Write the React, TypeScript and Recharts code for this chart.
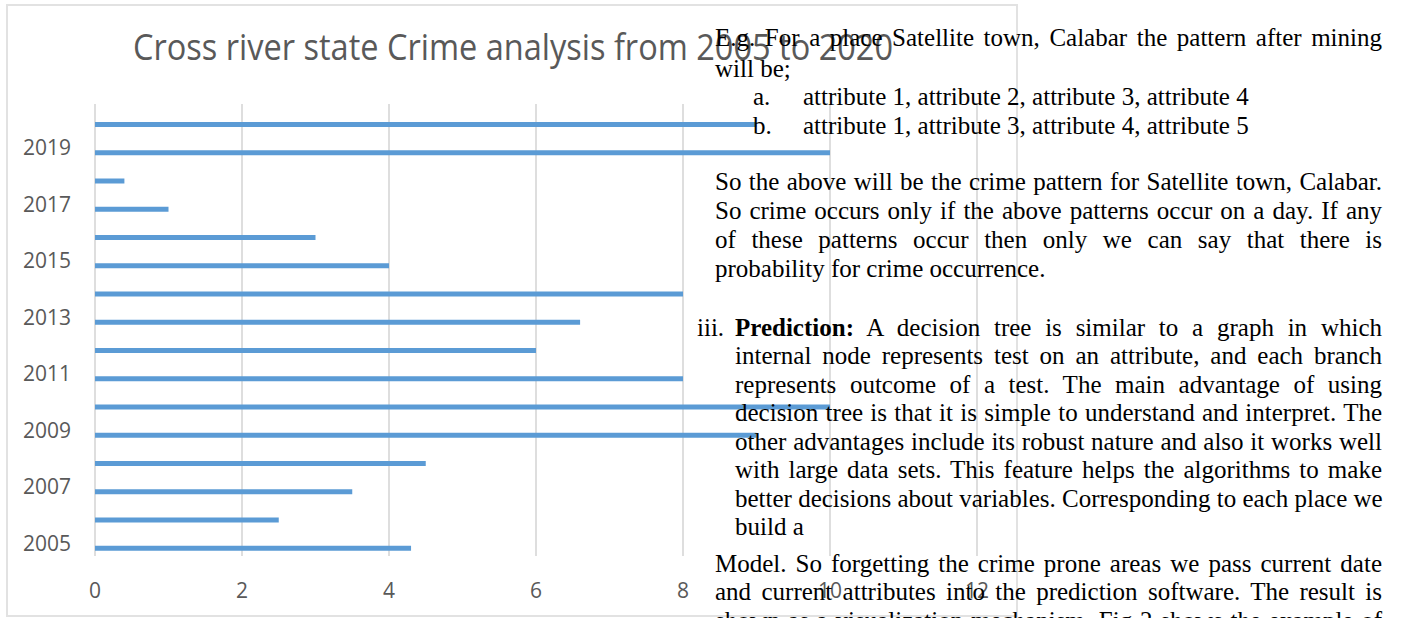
import React from 'react';
import { BarChart, Bar, XAxis, YAxis, CartesianGrid } from 'recharts';

// ---- chart data ----
const years = ['2005', '2006', '2007', '2008', '2009', '2010', '2011', '2012', '2013', '2014', '2015', '2016', '2017', '2018', '2019', '2020'];
const crimes = [4.3, 2.5, 3.5, 4.5, 9, 10, 8, 6, 6.6, 8, 4, 3, 1, 0.4, 10, 9];
const padSeries = years.map(() => 0);
const xTicks = [0, 2, 4, 6, 8, 10, 12];
const chartTitle = 'Cross river state Crime analysis from 2005 to 2020';

// ---- overlapping document text ----
const docLines = [
  'E.g. For a place Satellite town, Calabar the pattern after mining',
  'will be;',
  'So the above will be the crime pattern for Satellite town, Calabar.',
  'So crime occurs only if the above patterns occur on a day. If any',
  'of these patterns occur then only we can say that there is',
  'probability for crime occurrence.',
  'internal node represents test on an attribute, and each branch',
  'represents outcome of a test. The main advantage of using',
  'decision tree is that it is simple to understand and interpret. The',
  'other advantages include its robust nature and also it works well',
  'with large data sets. This feature helps the algorithms to make',
  'better decisions about variables. Corresponding to each place we',
  'build a',
  'Model. So forgetting the crime prone areas we pass current date',
  'and current attributes into the prediction software. The result is',
  'shown as a visualization mechanism. Fig 2 shows the example of',
];
const listMarks = ['a.', 'b.'];
const listItems = ['attribute 1, attribute 2, attribute 3, attribute 4', 'attribute 1, attribute 3, attribute 4, attribute 5'];
const romanMark = 'iii.';
const boldLead = 'Prediction:';
const predictionRest = ' A decision tree is similar to a graph in which';

const data = years.map((y, i) => ({ year: y, pad: padSeries[i], value: crimes[i] }));

const serif = '"Liberation Serif", "Times New Roman", Times, serif';
const sans = '"Open Sans", "Liberation Sans", Arial, sans-serif';

type LineSpec = { idx: number; left: number; base: number; width: number; justify: boolean };
const lineLayout: LineSpec[] = [
  { idx: 0, left: 715, base: 46, width: 667, justify: true },
  { idx: 1, left: 715, base: 77, width: 667, justify: false },
  { idx: 2, left: 715, base: 190, width: 667, justify: true },
  { idx: 3, left: 715, base: 219, width: 667, justify: true },
  { idx: 4, left: 715, base: 248, width: 667, justify: true },
  { idx: 5, left: 715, base: 277, width: 667, justify: false },
  { idx: 6, left: 735, base: 364.5, width: 647, justify: true },
  { idx: 7, left: 735, base: 393, width: 647, justify: true },
  { idx: 8, left: 735, base: 421.5, width: 647, justify: true },
  { idx: 9, left: 735, base: 450, width: 647, justify: true },
  { idx: 10, left: 735, base: 478.5, width: 647, justify: true },
  { idx: 11, left: 735, base: 507, width: 647, justify: true },
  { idx: 12, left: 735, base: 535.5, width: 647, justify: false },
  { idx: 13, left: 715, base: 572, width: 667, justify: true },
  { idx: 14, left: 715, base: 600.5, width: 667, justify: true },
  { idx: 15, left: 715, base: 629, width: 667, justify: true },
];

const FS = 25;
const LH = 28;
const baseOffset = 22.4;

const lineStyle = (left: number, base: number, width: number, justify: boolean): React.CSSProperties => ({
  position: 'absolute',
  left,
  top: base - baseOffset,
  width,
  fontFamily: serif,
  fontSize: FS,
  lineHeight: `${LH}px`,
  color: '#000',
  whiteSpace: 'nowrap',
  textAlign: justify ? 'justify' : 'left',
  textAlignLast: justify ? 'justify' : 'left',
});

const YTick = (props: any) => {
  const { x, y, payload } = props;
  return (
    <text x={x} y={y + 1} textAnchor="end" dominantBaseline="central" fill="#595959" fontSize={21} fontFamily={sans}>
      {payload.value}
    </text>
  );
};

export default function App() {
  return (
    <div style={{ position: 'absolute', left: 0, top: 0, width: 1402, height: 618, background: '#fff', overflow: 'hidden' }}>
      <div
        style={{
          position: 'absolute',
          left: 6,
          top: 4,
          width: 1012,
          height: 613,
          border: '2px solid #e2e2e2',
          boxSizing: 'border-box',
        }}
      />
      <div style={{ position: 'absolute', left: 0, top: 0 }}>
        <BarChart
          width={1024}
          height={618}
          data={data}
          layout="vertical"
          margin={{ top: 104, right: 47, bottom: 22, left: 0 }}
          barGap={7}
        >
          <CartesianGrid horizontal={false} vertical stroke="#dedede" strokeWidth={2} />
          <XAxis
            type="number"
            domain={[0, 12]}
            ticks={xTicks}
            axisLine={false}
            tickLine={false}
            tickSize={0}
            tickMargin={27}
            height={40}
            tick={{ fill: '#595959', fontSize: 21, fontFamily: sans }}
          />
          <YAxis
            type="category"
            dataKey="year"
            reversed
            width={95}
            axisLine={false}
            tickLine={false}
            tickSize={0}
            tickMargin={24}
            interval={1}
            tick={<YTick />}
          />
          <Bar dataKey="pad" fill="none" barSize={5} isAnimationActive={false} />
          <Bar dataKey="value" fill="#5b9bd5" barSize={5} isAnimationActive={false} />
        </BarChart>
      </div>
      <svg width={1402} height={618} style={{ position: 'absolute', left: 0, top: 0 }}>
        <text
          x={513}
          y={60}
          textAnchor="middle"
          fontFamily={sans}
          fontSize={37}
          fill="#595959"
          textLength={760}
          lengthAdjust="spacingAndGlyphs"
        >
          {chartTitle}
        </text>
      </svg>
      {lineLayout.map((l) => (
        <div key={l.idx} style={lineStyle(l.left, l.base, l.width, l.justify)}>
          {docLines[l.idx]}
        </div>
      ))}
      {listMarks.map((m, i) => (
        <React.Fragment key={m}>
          <div style={lineStyle(753, 105 + i * 29.5, 40, false)}>{m}</div>
          <div style={lineStyle(803, 105 + i * 29.5, 560, false)}>{listItems[i]}</div>
        </React.Fragment>
      ))}
      <div style={lineStyle(697, 336, 40, false)}>{romanMark}</div>
      <div style={lineStyle(735, 336, 647, true)}>
        <b>{boldLead}</b>
        {predictionRest}
      </div>
    </div>
  );
}
